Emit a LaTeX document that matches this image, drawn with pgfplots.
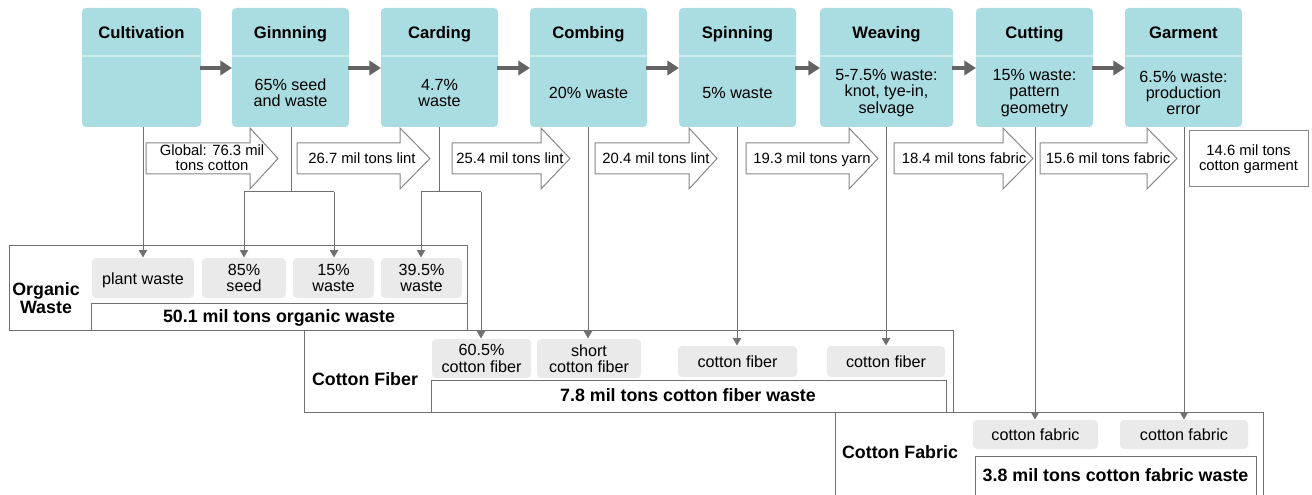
\documentclass[border=0pt]{standalone}
\usepackage{pgfplots}
\pgfplotsset{compat=1.18}
\usetikzlibrary{arrows.meta}
\usepackage{fontspec}
\setmainfont{Liberation Sans}
\definecolor{stage}{RGB}{170,221,226}
\definecolor{stageline}{RGB}{205,236,238}
\definecolor{item}{RGB}{234,234,234}
\definecolor{lgray}{RGB}{112,112,112}
\definecolor{dgray}{RGB}{100,100,100}
\definecolor{agray}{RGB}{135,135,135}
\newcommand{\fh}{\fontsize{10}{11}\selectfont\bfseries}
\newcommand{\fb}{\fontsize{9.7}{9.7}\selectfont}
\newcommand{\fa}{\fontsize{8.9}{9.1}\selectfont}
\newcommand{\ft}{\fontsize{10.7}{11}\selectfont\bfseries}
\tikzset{one/.style={text height=0.86em, text depth=0.14em, inner sep=0pt},
         multi/.style={align=center, inner sep=0pt}}
% stage box: x1 x2 title body-style body
\newcommand{\stage}[5]{%
  \fill[stage, rounded corners=2.4pt] (axis cs:#1,8) rectangle (axis cs:#2,127);
  \draw[stageline, line width=0.7pt] (axis cs:#1,56) -- (axis cs:#2,56);
  \node[font=\fh, one] at (axis cs:{(#1+#2)/2},33) {#3};
  \node[font=\fb, #4] at (axis cs:{(#1+#2)/2},93) {#5};
}
% block arrow: x1 xhead xtip label-x label-style label
\newcommand{\barrow}[6]{%
  \draw[agray, fill=white, line width=0.6pt] (axis cs:#1,143) -- (axis cs:#2,143) -- (axis cs:#2,128) -- (axis cs:#3,158.5) -- (axis cs:#2,189) -- (axis cs:#2,174) -- (axis cs:#1,174) -- cycle;
  \node[font=\fa, #5] at (axis cs:#4,157.5) {#6};
}
% grey item: x1 x2 y1 y2 style text
\newcommand{\itembox}[6]{%
  \fill[item, rounded corners=2.4pt] (axis cs:#1,#3) rectangle (axis cs:#2,#4);
  \node[font=\fb, #5] at (axis cs:{(#1+#2)/2},{(#3+#4)/2}) {#6};
}
\newcommand{\flow}{\draw[lgray, line width=0.6pt, -{Triangle[length=4.5pt,width=5pt]}]}
\newcommand{\stepar}[2]{\draw[dgray, line width=2.3pt, -{Triangle[length=7pt,width=8.5pt]}] (axis cs:#1,68) -- (axis cs:#2,68);}
\begin{document}
\begin{tikzpicture}
\begin{axis}[scale only axis, width=787.2pt, height=297pt,
  xmin=0, xmax=1312, ymin=0, ymax=495, y dir=reverse, hide axis, clip=false]
\coordinate (bl) at (axis cs:0,495);
\coordinate (tr) at (axis cs:1312,0);
% ---- stages
\stage{82}{201}{Cultivation}{one}{}
\stage{232}{349}{Ginnning}{multi}{65\% seed\\and waste}
\stage{381}{498}{Carding}{multi}{4.7\%\\waste}
\stage{530}{647}{Combing}{one}{20\% waste}
\stage{679}{796}{Spinning}{one}{5\% waste}
\stage{820}{953}{Weaving}{multi}{5-7.5\% waste:\\knot, tye-in,\\selvage}
\stage{976}{1093}{Cutting}{multi}{15\% waste:\\pattern\\geometry}
\stage{1125}{1242}{Garment}{multi}{6.5\% waste:\\production\\error}
\stepar{200}{232}
\stepar{348}{381}
\stepar{497}{530}
\stepar{646}{679}
\stepar{795}{820}
\stepar{952}{976}
\stepar{1092}{1125}
% ---- flow lines
\flow (axis cs:143,127) -- (axis cs:143,257.5);
\draw[lgray, line width=0.6pt] (axis cs:291,127) -- (axis cs:291,192);
\draw[lgray, line width=0.6pt] (axis cs:244,192) -- (axis cs:334,192);
\flow (axis cs:244,192) -- (axis cs:244,257.5);
\flow (axis cs:334,192) -- (axis cs:334,257.5);
\draw[lgray, line width=0.6pt] (axis cs:439,127) -- (axis cs:439,192);
\draw[lgray, line width=0.6pt] (axis cs:421,192) -- (axis cs:481,192);
\flow (axis cs:421,192) -- (axis cs:421,257.5);
\flow (axis cs:481,192) -- (axis cs:481,338.5);
\flow (axis cs:588,127) -- (axis cs:588,338.5);
\flow (axis cs:737,127) -- (axis cs:737,345.5);
\flow (axis cs:886,127) -- (axis cs:886,345.5);
\flow (axis cs:1035,127) -- (axis cs:1035,419.5);
\flow (axis cs:1184,127) -- (axis cs:1184,419.5);
% ---- block arrows
\barrow{146}{250}{278}{212}{multi}{Global: 76.3 mil\\tons cotton}
\barrow{297}{400}{430}{362}{one}{26.7 mil tons lint}
\barrow{452}{541}{570}{510}{one}{25.4 mil tons lint}
\barrow{595}{689}{717}{656}{one}{20.4 mil tons lint}
\barrow{746}{849}{878}{812}{one}{19.3 mil tons yarn}
\barrow{894}{1003}{1033}{964}{one}{18.4 mil tons fabric}
\barrow{1040}{1147}{1177}{1108}{one}{15.6 mil tons fabric}
\draw[agray, fill=white, line width=0.6pt] (axis cs:1189,131) rectangle (axis cs:1308,187);
\node[font=\fa, multi] at (axis cs:1248.5,159) {14.6 mil tons\\cotton garment};
% ---- organic waste
\draw[lgray, line width=0.6pt] (axis cs:9,245) rectangle (axis cs:467,330);
\draw[lgray, line width=0.6pt] (axis cs:91,330) -- (axis cs:91,303) -- (axis cs:467,303);
\node[font=\ft, multi] at (axis cs:46,298) {Organic\\Waste};
\itembox{92}{194}{258}{298}{one}{plant waste}
\itembox{202}{286}{258}{298}{multi}{85\%\\seed}
\itembox{293}{374}{258}{298}{multi}{15\%\\waste}
\itembox{381}{462}{258}{298}{multi}{39.5\%\\waste}
\node[font=\ft, one] at (axis cs:279,316.5) {50.1 mil tons organic waste};
% ---- cotton fiber
\draw[lgray, line width=0.6pt] (axis cs:304,330) rectangle (axis cs:953,412);
\draw[lgray, line width=0.6pt] (axis cs:431,412) -- (axis cs:431,380) -- (axis cs:946,380) -- (axis cs:946,412);
\node[font=\ft, one] at (axis cs:365,379) {Cotton Fiber};
\itembox{432}{531}{339}{378}{multi}{60.5\%\\cotton fiber}
\itembox{537}{641}{339}{378}{multi}{short\\cotton fiber}
\itembox{678}{797}{346}{377}{one}{cotton fiber}
\itembox{827}{945}{346}{377}{one}{cotton fiber}
\node[font=\ft, one] at (axis cs:688,395) {7.8 mil tons cotton fiber waste};
% ---- cotton fabric
\draw[lgray, line width=0.6pt] (axis cs:835,505) -- (axis cs:835,412) -- (axis cs:1263,412) -- (axis cs:1263,505);
\draw[lgray, line width=0.6pt] (axis cs:975,505) -- (axis cs:975,456) -- (axis cs:1256,456) -- (axis cs:1256,505);
\node[font=\ft, one] at (axis cs:900,452) {Cotton Fabric};
\itembox{973}{1098}{420}{449}{one}{cotton fabric}
\itembox{1120}{1248}{420}{449}{one}{cotton fabric}
\node[font=\ft, one] at (axis cs:1115.5,475) {3.8 mil tons cotton fabric waste};
\end{axis}
\pgfresetboundingbox
\useasboundingbox (bl) rectangle (tr);
\end{tikzpicture}
\end{document}
